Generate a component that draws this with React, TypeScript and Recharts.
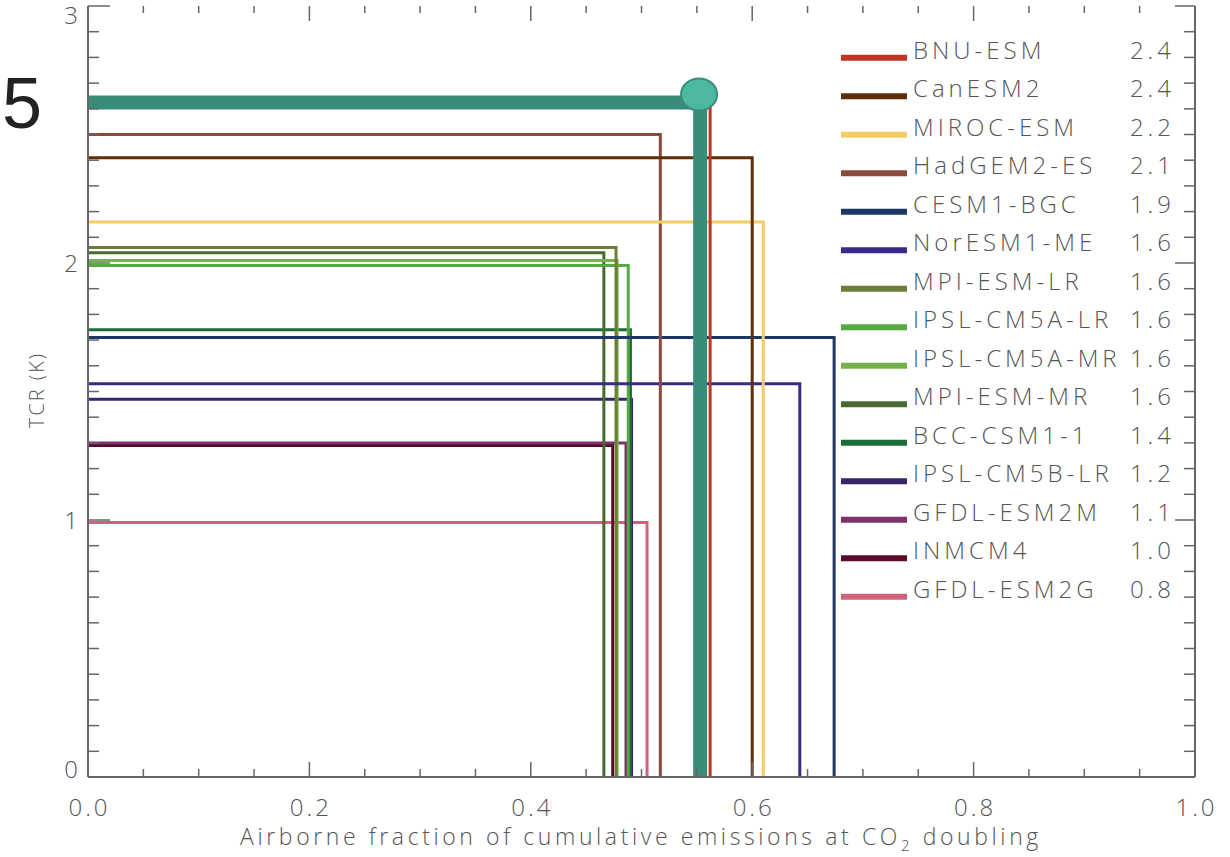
import React from "react";
import { LineChart, Line, XAxis, YAxis } from "recharts";

const MODELS = [
  "BNU-ESM",
  "CanESM2",
  "MIROC-ESM",
  "HadGEM2-ES",
  "CESM1-BGC",
  "NorESM1-ME",
  "MPI-ESM-LR",
  "IPSL-CM5A-LR",
  "IPSL-CM5A-MR",
  "MPI-ESM-MR",
  "BCC-CSM1-1",
  "IPSL-CM5B-LR",
  "GFDL-ESM2M",
  "INMCM4",
  "GFDL-ESM2G",
];
const LEGEND_VALUES = ["2.4", "2.4", "2.2", "2.1", "1.9", "1.6", "1.6", "1.6", "1.6", "1.6", "1.4", "1.2", "1.1", "1.0", "0.8"];
const AIRBORNE_FRACTION = [0.562, 0.6, 0.61, 0.517, 0.674, 0.643, 0.477, 0.488, 0.478, 0.466, 0.49, 0.491, 0.486, 0.474, 0.505];
const TCR = [2.62, 2.41, 2.16, 2.5, 1.71, 1.53, 2.06, 1.99, 2.01, 2.04, 1.74, 1.47, 1.3, 1.29, 0.99];
const MODEL_COLORS = [
  "#c23524",
  "#5c2e0a",
  "#f2cd66",
  "#8a4b3b",
  "#1d3765",
  "#382a88",
  "#6b7d36",
  "#58a846",
  "#74b24c",
  "#4a6b2f",
  "#1b6b36",
  "#36256b",
  "#7b3169",
  "#5c0a2b",
  "#d0627a",
];

// highlighted multi-model value
const HIGHLIGHT_AF = 0.553;
const HIGHLIGHT_TCR = 2.625;
const MARKER_TCR = 2.656;

const X_TICKS = [0, 0.05, 0.1, 0.15, 0.2, 0.25, 0.3, 0.35, 0.4, 0.45, 0.5, 0.55, 0.6, 0.65, 0.7, 0.75, 0.8, 0.85, 0.9, 0.95, 1];
const Y_TICKS = [
  0, 0.1, 0.2, 0.3, 0.4, 0.5, 0.6, 0.7, 0.8, 0.9, 1, 1.1, 1.2, 1.3, 1.4, 1.5, 1.6, 1.7, 1.8, 1.9, 2, 2.1, 2.2, 2.3, 2.4, 2.5,
  2.6, 2.7, 2.8, 2.9, 3,
];

const AXIS = "#666";
const TEXT = "#555";
const FONT = "'Open Sans', sans-serif";

const isMajorX = (v: number) => Math.abs(v * 5 - Math.round(v * 5)) < 1e-6;
const isMajorY = (v: number) => Math.abs(v - Math.round(v)) < 1e-6;

const BottomTick = (props: any) => {
  const { x, y, payload } = props;
  const major = isMajorX(payload.value);
  return (
    <g>
      <line x1={x} x2={x} y1={y} y2={y - (major ? 15 : 8)} stroke={AXIS} strokeWidth={1.5} />
      {major && (
        <text x={x + 1.5} y={y + 39} textAnchor="middle" fontSize={24} fontWeight={300} fill={TEXT} fontFamily={FONT} letterSpacing={3}>
          {payload.value.toFixed(1)}
        </text>
      )}
    </g>
  );
};

const TopTick = (props: any) => {
  const { x, y, payload } = props;
  const major = isMajorX(payload.value);
  return <line x1={x} x2={x} y1={y} y2={y + (major ? 15 : 7)} stroke={AXIS} strokeWidth={1.5} />;
};

const LeftTick = (props: any) => {
  const { x, y, payload } = props;
  const v = payload.value;
  const major = isMajorY(v);
  const shift = v === 0 ? -8 : v === 3 ? 9 : 0;
  return (
    <g>
      <line x1={x} x2={x + (major ? 22 : 11)} y1={y} y2={y} stroke={AXIS} strokeWidth={1.5} />
      {major && (
        <text x={x - 10} y={y + shift + 9} textAnchor="end" fontSize={24} fontWeight={300} fill={TEXT} fontFamily={FONT}>
          {v}
        </text>
      )}
    </g>
  );
};

const RightTick = (props: any) => {
  const { x, y, payload } = props;
  const major = isMajorY(payload.value);
  return <line x1={x} x2={x - (major ? 20 : 11)} y1={y} y2={y} stroke={AXIS} strokeWidth={1.5} />;
};

const Marker = (props: any) => {
  const { cx, cy } = props;
  return <ellipse key="marker" cx={cx} cy={cy} rx={18} ry={16} fill="#4db8a0" stroke="#3a8c7a" strokeWidth={2} />;
};

const modelPath = (i: number) => [
  { x: 0, y: TCR[i] },
  { x: AIRBORNE_FRACTION[i], y: TCR[i] },
  { x: AIRBORNE_FRACTION[i], y: 0 },
];

const highlightPath = [
  { x: 0, y: HIGHLIGHT_TCR },
  { x: HIGHLIGHT_AF, y: HIGHLIGHT_TCR },
  { x: HIGHLIGHT_AF, y: 0 },
];

const App = () => {
  const order = MODELS.map((_, i) => i).reverse();
  return (
    <div style={{ position: "absolute", left: 0, top: 0, width: 1230, height: 857, background: "#fff" }}>
      <LineChart width={1230} height={857} margin={{ top: 5, right: 34, bottom: 79, left: 87 }}>
        <XAxis
          dataKey="x"
          type="number"
          domain={[0, 1]}
          ticks={X_TICKS}
          interval={0}
          height={1}
          tickSize={0}
          tickMargin={0}
          tick={<BottomTick />}
          tickLine={false}
          axisLine={{ stroke: AXIS, strokeWidth: 2 }}
        />
        <XAxis
          xAxisId="top"
          orientation="top"
          dataKey="x"
          type="number"
          domain={[0, 1]}
          allowDataOverflow
          ticks={X_TICKS}
          interval={0}
          height={1}
          tickSize={0}
          tickMargin={0}
          tick={<TopTick />}
          tickLine={false}
          axisLine={false}
        />
        <YAxis
          type="number"
          domain={[0, 3]}
          ticks={Y_TICKS}
          interval={0}
          width={1}
          tickSize={0}
          tickMargin={0}
          tick={<LeftTick />}
          tickLine={false}
          axisLine={{ stroke: AXIS, strokeWidth: 2 }}
        />
        <YAxis
          yAxisId="right"
          orientation="right"
          type="number"
          domain={[0, 3]}
          allowDataOverflow
          ticks={Y_TICKS}
          interval={0}
          width={1}
          tickSize={0}
          tickMargin={0}
          tick={<RightTick />}
          tickLine={false}
          axisLine={{ stroke: AXIS, strokeWidth: 2 }}
        />
        {order.map((i) => (
          <Line
            key={MODELS[i]}
            data={modelPath(i)}
            dataKey="y"
            type="linear"
            stroke={MODEL_COLORS[i]}
            strokeWidth={3}
            dot={false}
            activeDot={false}
            isAnimationActive={false}
          />
        ))}
        <Line
          data={[{ x: HIGHLIGHT_AF - 0.001, y: MARKER_TCR }]}
          dataKey="y"
          stroke="none"
          dot={<Marker />}
          activeDot={false}
          isAnimationActive={false}
        />
        <Line
          data={highlightPath}
          dataKey="y"
          type="linear"
          stroke="#3a8c7a"
          strokeWidth={14}
          strokeLinejoin="miter"
          dot={false}
          activeDot={false}
          isAnimationActive={false}
        />
      </LineChart>

      <svg width={1230} height={857} style={{ position: "absolute", left: 0, top: 0, pointerEvents: "none" }}>
        <text x={2} y={128} fontSize={72} fill="#222" fontFamily="'Liberation Sans', Arial, sans-serif">
          5
        </text>
        <text
          x={44}
          y={390}
          transform="rotate(-90 44 390)"
          textAnchor="middle"
          fontSize={20}
          fontWeight={300}
          fill={TEXT}
          fontFamily={FONT}
          letterSpacing={2}
        >
          TCR (K)
        </text>
        <text x={641} y={845} textAnchor="middle" fontSize={23} fontWeight={300} fill={TEXT} fontFamily={FONT} letterSpacing={3.6}>
          Airborne fraction of cumulative emissions at CO
          <tspan fontSize={15} dy={6}>
            2
          </tspan>
          <tspan dy={-6}> doubling</tspan>
        </text>
        {MODELS.map((m, i) => {
          const cy = 57.7 + i * 38.5;
          return (
            <g key={m}>
              <line x1={841} x2={907} y1={cy} y2={cy} stroke={MODEL_COLORS[i]} strokeWidth={6} />
              <text x={913} y={cy + 1} fontSize={24} fontWeight={300} fill={TEXT} fontFamily={FONT} letterSpacing={4}>
                {m}
              </text>
              <text x={1175} y={cy + 1} textAnchor="end" fontSize={24} fontWeight={300} fill={TEXT} fontFamily={FONT} letterSpacing={4}>
                {LEGEND_VALUES[i]}
              </text>
            </g>
          );
        })}
      </svg>
    </div>
  );
};

export default App;
